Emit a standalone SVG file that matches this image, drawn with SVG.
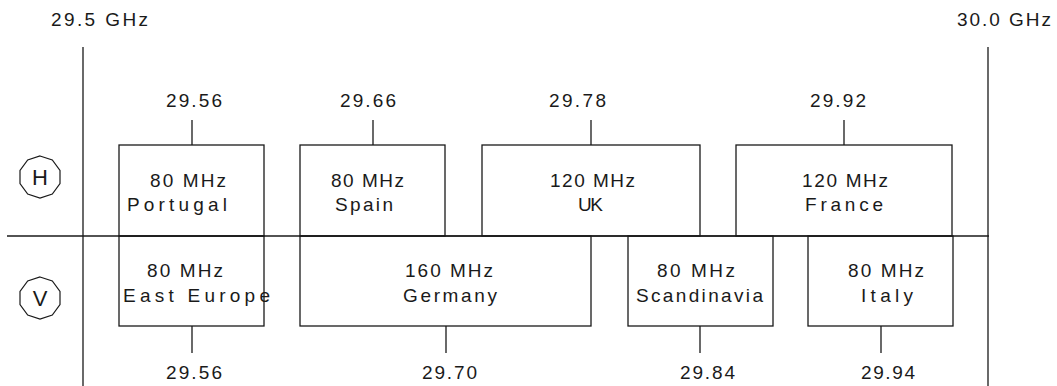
<svg xmlns="http://www.w3.org/2000/svg" width="1057" height="386" viewBox="0 0 1057 386">
<style>
text{font-family:"Liberation Sans",Arial,sans-serif;font-size:19px;fill:#1a1a1a;lengthAdjust:spacing}
.c{text-anchor:middle}
.box{fill:none;stroke:#1a1a1a;stroke-width:1.3}
.ln{fill:none;stroke:#1a1a1a;stroke-width:1.3}
.pol{font-size:22px}
</style>
<defs>
<polygon id="deca" points="0,-21 12.3,-17 20,-6.5 20,6.5 12.3,17 0,21 -12.3,17 -20,6.5 -20,-6.5 -12.3,-17" fill="none" stroke="#1a1a1a" stroke-width="1.2"/>
</defs>
<rect width="1057" height="386" fill="#fff"/>

<g id="scale">
<text x="51" y="26" textLength="97" lengthAdjust="spacing">29.5 GHz</text>
<text x="957" y="26" textLength="94" lengthAdjust="spacing">30.0 GHz</text>
</g>

<g id="pol-H">
<use href="#deca" x="40" y="177"/>
<text class="c pol" x="40" y="185">H</text>
</g>
<g id="pol-V">
<use href="#deca" x="40" y="298"/>
<text class="c pol" x="40" y="306">V</text>
</g>

<g id="connectors">
<line class="ln" x1="83" y1="47" x2="83" y2="386"/>
<line class="ln" x1="988" y1="47" x2="988" y2="386"/>
<line class="ln" x1="7" y1="236" x2="989" y2="236"/>
<line class="ln" x1="192" y1="120" x2="192" y2="145"/>
<line class="ln" x1="373" y1="120" x2="373" y2="145"/>
<line class="ln" x1="591" y1="120" x2="591" y2="145"/>
<line class="ln" x1="844" y1="120" x2="844" y2="145"/>
<line class="ln" x1="192" y1="326" x2="192" y2="353"/>
<line class="ln" x1="446" y1="326" x2="446" y2="353"/>
<line class="ln" x1="700" y1="326" x2="700" y2="353"/>
<line class="ln" x1="881" y1="326" x2="881" y2="353"/>
</g>

<g id="portugal">
<rect class="box" x="119" y="145" width="145" height="91"/>
<text x="150" y="187" textLength="76" lengthAdjust="spacing">80 MHz</text>
<text x="127" y="211" textLength="100" lengthAdjust="spacing">Portugal</text>
<text x="166" y="107" textLength="56" lengthAdjust="spacing">29.56</text>
</g>
<g id="spain">
<rect class="box" x="300" y="145" width="145" height="91"/>
<text x="331" y="187" textLength="73" lengthAdjust="spacing">80 MHz</text>
<text x="335" y="211" textLength="58" lengthAdjust="spacing">Spain</text>
<text x="340" y="107" textLength="56" lengthAdjust="spacing">29.66</text>
</g>
<g id="uk">
<rect class="box" x="482" y="145" width="218" height="91"/>
<text x="550" y="187" textLength="85" lengthAdjust="spacing">120 MHz</text>
<text x="578" y="211" textLength="25" lengthAdjust="spacing">UK</text>
<text x="549" y="107" textLength="57" lengthAdjust="spacing">29.78</text>
</g>
<g id="france">
<rect class="box" x="736" y="145" width="216" height="91"/>
<text x="802" y="187" textLength="86" lengthAdjust="spacing">120 MHz</text>
<text x="805" y="211" textLength="78" lengthAdjust="spacing">France</text>
<text x="810" y="107" textLength="56" lengthAdjust="spacing">29.92</text>
</g>

<g id="east-europe">
<rect class="box" x="119" y="236" width="145" height="90"/>
<text x="147" y="277" textLength="76" lengthAdjust="spacing">80 MHz</text>
<text x="123" y="302" textLength="147" lengthAdjust="spacing">East Europe</text>
<text x="166" y="379" textLength="56" lengthAdjust="spacing">29.56</text>
</g>
<g id="germany">
<rect class="box" x="300" y="236" width="291" height="90"/>
<text x="405" y="277" textLength="88" lengthAdjust="spacing">160 MHz</text>
<text x="403" y="302" textLength="94" lengthAdjust="spacing">Germany</text>
<text x="422" y="379" textLength="55" lengthAdjust="spacing">29.70</text>
</g>
<g id="scandinavia">
<rect class="box" x="628" y="236" width="145" height="90"/>
<text x="657" y="277" textLength="78" lengthAdjust="spacing">80 MHz</text>
<text x="636" y="302" textLength="127" lengthAdjust="spacing">Scandinavia</text>
<text x="680" y="379" textLength="55" lengthAdjust="spacing">29.84</text>
</g>
<g id="italy">
<rect class="box" x="808" y="236" width="145" height="90"/>
<text x="848" y="277" textLength="76" lengthAdjust="spacing">80 MHz</text>
<text x="861" y="302" textLength="52" lengthAdjust="spacing">Italy</text>
<text x="861" y="379" textLength="54" lengthAdjust="spacing">29.94</text>
</g>
</svg>
